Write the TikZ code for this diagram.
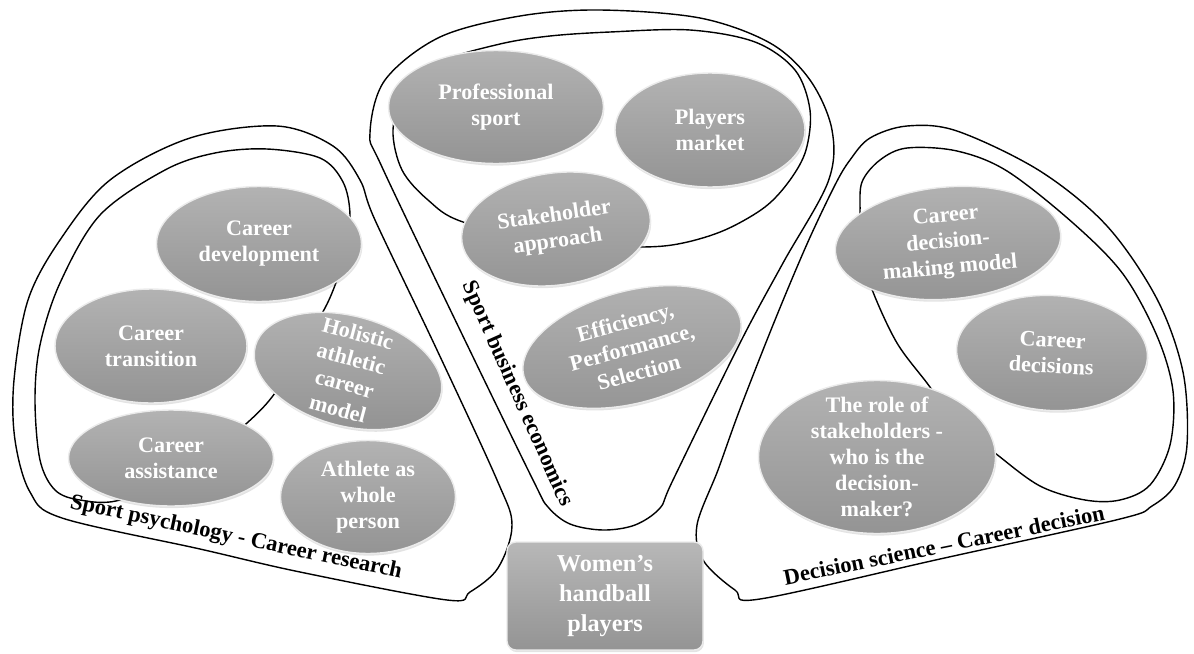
\documentclass[tikz,border=0pt]{standalone}
\usepackage{fontspec}
\setmainfont{Liberation Serif}
\usetikzlibrary{shapes.geometric,shadows}

\begin{document}
\begin{tikzpicture}[
        x=0.02cm, y=-0.02cm,
        regionline/.style={draw=black, line width=0.8pt},
        topicball/.style={ellipse, inner xsep=0pt, inner ysep=-8pt, top color=black!30, bottom color=black!42,
            draw=black!8, line width=0.8pt, text=white, align=center,
            font=\fontsize{12.6}{14.8}\selectfont\bfseries,
            drop shadow={opacity=0.22, shadow xshift=0.5pt, shadow yshift=-1.2pt}},
        playerbox/.style={rectangle, rounded corners=5pt, minimum width=3.92cm, minimum height=2.16cm,
            top color=black!28, bottom color=black!42, draw=black!8, line width=0.8pt, text=white, align=center,
            font=\fontsize{13.8}{17}\selectfont\bfseries,
            drop shadow={opacity=0.22, shadow xshift=0.5pt, shadow yshift=-1.2pt}},
        fieldlabel/.style={inner sep=0pt, font=\fontsize{12.8}{15}\selectfont\bfseries}
    ]
    \useasboundingbox (0,0) rectangle (1194,653);

    % ==========================================
    % REGION OUTLINES
    % ==========================================
    % Sport psychology (outer, inner)
    \draw[regionline] plot[smooth cycle, tension=0.55] coordinates {
        (277,126) (333,146) (360,180) (375,220) (437,350) (497,480) (512,525) (498,568) (470,592)
        (447,600) (300,572) (200,549) (62,518) (30,492) (15,440) (14,380) (28,300) (60,240) (110,180) (190,138)};
    \draw[regionline] plot[smooth cycle, tension=0.55] coordinates {
        (267,149) (320,158) (343,182) (350,215) (345,255) (337,280) (325,308) (300,350) (275,393) (247,423)
        (190,470) (120,500) (80,500) (55,490) (40,460) (35,400) (40,345) (60,283) (100,215) (165,170) (215,153)};

    % Sport business economics (outer, inner)
    \draw[regionline] plot[smooth cycle, tension=0.55] coordinates {
        (600,10) (700,18) (770,43) (810,80) (832,130) (828,182) (783,263) (740,343) (673,480) (660,508)
        (635,525) (603,530) (570,524) (548,507) (533,480) (460,330) (382,167) (370,133) (385,80) (440,37) (520,16)};
    \draw[regionline] plot[smooth cycle, tension=0.55] coordinates {
        (610,32) (690,30) (755,42) (795,70) (810,110) (806,150) (790,180) (765,207) (725,230) (683,243)
        (643,247) (560,245) (463,222) (428,200) (402,170) (393,130) (405,92) (440,62) (500,44) (550,36)};

    % Decision science (outer, inner)
    \draw[regionline] plot[smooth cycle, tension=0.55] coordinates {
        (907,126) (957,131) (1040,171) (1107,226) (1157,299) (1183,372) (1187,445) (1175,485) (1152,506)
        (1120,519) (940,559) (760,599) (735,590) (703,560) (697,525) (718,470) (740,409) (775,320)
        (807,244) (835,185) (850,160) (870,138)};
    \draw[regionline] plot[smooth cycle, tension=0.55] coordinates {
        (907,148) (957,151) (1007,171) (1073,223) (1123,274) (1157,336) (1173,391) (1170,445) (1150,485)
        (1120,500) (1085,500) (1040,486) (995,453) (955,420) (927,383) (897,343) (873,292) (860,250)
        (860,212) (862,182) (880,160)};

    % ==========================================
    % TOPICS: Sport psychology
    % ==========================================
    \node[topicball, minimum width=4.1cm, minimum height=2.3cm] (cdev) at (259,244) {Career\\development};
    \node[topicball, minimum width=3.84cm, minimum height=2.28cm] (ctrans) at (151,346) {Career\\transition};
    \node[topicball, minimum width=3.84cm, minimum height=2.2cm, rotate=-15] (holistic) at (348,371) {Holistic\\athletic\\career\\model};
    \node[topicball, minimum width=4.1cm, minimum height=1.92cm] (cassist) at (171,458) {Career\\assistance};
    \node[topicball, minimum width=3.5cm, minimum height=2.26cm] (athlete) at (368,497) {Athlete as\\whole\\person};

    % ==========================================
    % TOPICS: Sport business economics
    % ==========================================
    \node[topicball, minimum width=4.3cm, minimum height=2.26cm] (prosport) at (496,107) {Professional\\sport};
    \node[topicball, minimum width=3.8cm, minimum height=2.28cm] (market) at (710,130) {Players\\market};
    \node[topicball, minimum width=3.8cm, minimum height=2.24cm, rotate=8] (stake) at (556,229) {Stakeholder\\approach};
    \node[topicball, minimum width=4.48cm, minimum height=2.24cm, rotate=15] (effic) at (632,347) {Efficiency,\\Performance,\\Selection};

    % ==========================================
    % TOPICS: Decision science
    % ==========================================
    \node[topicball, minimum width=4.52cm, minimum height=2.24cm, rotate=5] (cdmm) at (948,243) {Career\\decision-\\making model};
    \node[topicball, minimum width=3.82cm, minimum height=2.3cm, rotate=-3] (cdec) at (1052,353) {Career\\decisions};
    \node[topicball, minimum width=4.74cm, minimum height=3.06cm] (role) at (877,457) {The role of\\stakeholders -\\who is the\\decision-\\maker?};

    % centre box and field labels
    \node[playerbox] (players) at (605,596) {Women's\\handball\\players};

    \node[fieldlabel, rotate=-12] (psychlabel) at (236,538) {Sport psychology - Career research};
    \node[fieldlabel, rotate=-66] (bizlabel) at (517,394) {Sport business economics};
    \node[fieldlabel, rotate=11.5] (declabel) at (944,545) {Decision science – Career decision};

\end{tikzpicture}
\end{document}
